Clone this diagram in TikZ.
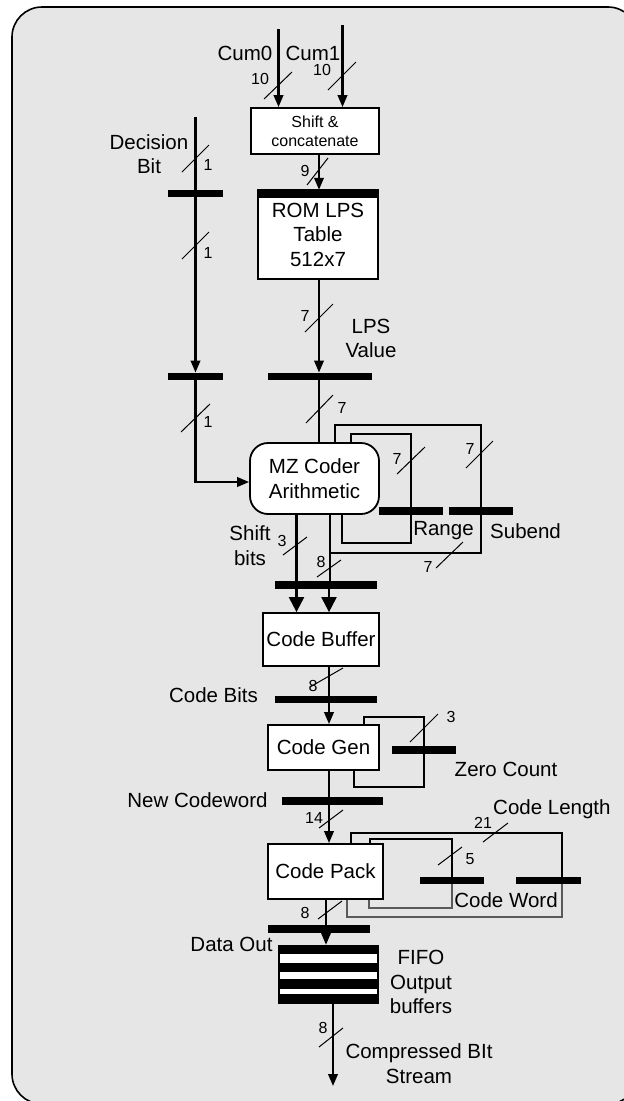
\documentclass[tikz,border=0pt]{standalone}
\usepackage{fontspec}
\setmainfont{Liberation Sans}
\usetikzlibrary{arrows.meta}
\definecolor{panel}{HTML}{E6E6E6}
\definecolor{faint}{HTML}{5A5A5A}

\begin{document}
\begin{tikzpicture}[x=1pt, y=-1pt,
      box/.style={draw, fill=white, line width=1.8pt, inner sep=0pt, align=center,
                  font=\fontsize{20.5}{24.5}\selectfont},
      bar/.style={fill=black, inner sep=0pt, minimum height=7.5pt},
      lbl/.style={align=center, inner sep=0pt, font=\fontsize{20.5}{24.5}\selectfont},
      num/.style={inner sep=0pt, font=\fontsize{16}{18}\selectfont},
      bus/.style={line width=2.2pt},
      arr/.style={bus, -{Triangle[length=12pt, width=9.5pt]}},
      arrbig/.style={bus, -{Triangle[length=15pt, width=15pt]}},
      fb/.style={line width=1.6pt},
      tick/.style={line width=1pt}]
    \useasboundingbox (0,0) rectangle (624,1101);
    \clip (0,0) rectangle (624,1101);
    \draw[line width=1.6pt, fill=panel, rounded corners=30pt] (12,7) rectangle (638,1104);

    \node[box, minimum width=128pt, minimum height=46pt, font=\fontsize{16}{19}\selectfont] (sc) at (315,131) {Shift \&\\concatenate};
    \node[box, minimum width=120pt, minimum height=89pt] (rom) at (318,234.5) {ROM LPS\\Table\\512x7};
    \node[bar, minimum width=120pt, minimum height=8pt] (rombar) at (318,194) {};
    \node[box, rounded corners=18pt, minimum width=129pt, minimum height=71pt] (mz) at (314.5,478.5) {MZ Coder\\Arithmetic};
    \node[box, minimum width=116pt, minimum height=53pt] (buf) at (321,639.5) {Code Buffer};
    \node[box, minimum width=111pt, minimum height=45pt] (gen) at (323.5,747.5) {Code Gen};
    \node[box, minimum width=115pt, minimum height=55pt] (pack) at (325.5,871.5) {Code Pack};
    \node[fill=black, inner sep=0pt, minimum width=101pt, minimum height=59pt] (fifo) at (328.5,974.5) {};
    \foreach \ya/\yb in {954/963, 972/979, 989/994}
      \fill[white] (280,\ya) rectangle (377,\yb);

    \node[bar, minimum width=55pt]  (b1)     at (195.5,193.5) {};
    \node[bar, minimum width=55pt]  (b2)     at (195.5,376.5) {};
    \node[bar, minimum width=104pt] (b3)     at (320,376.5) {};
    \node[bar, minimum width=64pt]  (brange) at (411,511) {};
    \node[bar, minimum width=64pt]  (bsub)   at (481,511) {};
    \node[bar, minimum width=102pt] (b4)     at (326,585) {};
    \node[bar, minimum width=102pt] (b5)     at (326,699.5) {};
    \node[bar, minimum width=64pt]  (bzero)  at (424,750) {};
    \node[bar, minimum width=101pt] (b6)     at (332.5,801) {};
    \node[bar, minimum width=64pt]  (bword)  at (452,880.5) {};
    \node[bar, minimum width=65pt]  (blen)   at (548.5,880.5) {};
    \node[bar, minimum width=102pt] (b7)     at (319,929) {};

    \coordinate (cum0) at (278.5,29);
    \coordinate (cum1) at (342.5,25);
    \coordinate (dec)  at (195.5,117);
    \coordinate (out)  at (333,1086);

    \draw[arr](cum0)--(cum0 |- sc.north);\draw[arr](cum1)--(cum1 |- sc.north);
    \draw[arr](sc.south -| 319,0)--(rombar.north -| 319,0);
    \draw[arr](rom.south -| 319,0)--(b3.north -| 319,0);
    \draw[bus](b3.south -| 319,0)--(mz.north -| 319,0);
    \draw[bus](dec)--(b1.north);\draw[arr](b1.south)--(b2.north);
    \draw[arr](b2.south) |- (mz.west |- 0,482);
    \draw[fb](mz.north -| 351,0) |- (411,434) -- (411,543) -| (mz.south -| 342,0);
    \draw[fb](mz.north -| 335,0) |- (481,425) -- (481,553) -- (330,553);
    \draw[bus](mz.south -| 296.5,0)--(b4.south -| 296.5,0);\draw[bus](mz.south -| 330,0)--(b4.south -| 330,0);
    \draw[arrbig](b4.south -| 296.5,0)--(buf.north -| 296.5,0);\draw[arrbig](b4.south -| 329,0)--(buf.north -| 329,0);
    \draw[bus](buf.south -| 329,0)--(b5.south -| 329,0);\draw[arr](b5.south -| 329,0)--(gen.north -| 329,0);
    \draw[fb](gen.north -| 364,0) |- (424,717) -- (424,787) -| (gen.south -| 354,0);
    \draw[bus](gen.south -| 329,0)--(b6.south -| 329,0);\draw[arr](b6.south -| 329,0)--(pack.north -| 329,0);
    \draw[fb](pack.north -| 351,0) |- (562,833) -- (blen.south -| 562,0);
    \draw[fb, faint, line width=1.2pt](blen.south -| 562,0) |- (347,917) -- (pack.south -| 347,0);
    \draw[fb](pack.north -| 370,0) |- (452,839) -- (bword.south);
    \draw[fb, faint, line width=1.2pt](bword.south) |- (369,908) -- (pack.south -| 369,0);
    \draw[bus](pack.south -| 326,0)--(b7.south -| 326,0);\draw[arr](b7.south -| 326,0)--(fifo.north -| 326,0);
    \draw[arr](fifo.south -| 333,0)--(out);

    \foreach \xa/\ya/\xb/\yb in {264/99/292/72, 328/90/356/62, 307/185/328/158, 182/172/209/145,
        182/259/209/232, 305/332/333/304, 181/432/210/404, 306/423/333/395, 397/474/425/447,
        466/468/493/441, 436/568/463/542, 283/555/307/537, 317/577/341/560, 310/687/343/668,
        410/742/438/714, 319/828/343/810, 438/865/462/847, 483/842/508/823, 318/919/342/901,
        319/1047/343/1028}
      \draw[tick](\xa,\ya)--(\xb,\yb);
    \foreach \x/\y/\t [count=\i] in {260/79/10, 322/70/10, 305/171/9, 208/165/1, 208/253/1,
        305/316/7, 208/422/1, 342/408/7, 397/459/7, 470/449/7, 428/567/7, 282/541/3, 321/562/8,
        313/686/8, 451/717/3, 314/818/14, 470/859/5, 483/823/21, 305/913/8, 323/1028/8}
      \node[num] (w\i) at (\x,\y) {\t};

    \node[lbl] (lcum0) at (245,53) {Cum0};
    \node[lbl] (lcum1) at (313,53) {Cum1};
    \node[lbl] (ldec) at (149,154) {Decision\\Bit};
    \node[lbl] (llps) at (371,338.5) {LPS\\Value};
    \node[lbl] (lshift) at (250,545.5) {Shift\\bits};
    \node[lbl] (lrange) at (443.5,531) {Range};
    \node[lbl, anchor=west] (lsub) at (490,531) {Subend};
    \node[lbl] (lbits) at (213.5,695) {Code Bits};
    \node[lbl] (lzero) at (506,769) {Zero Count};
    \node[lbl] (lnew) at (197.5,800) {New Codeword};
    \node[lbl, anchor=west] (llen) at (493,809) {Code Length};
    \node[lbl] (lword) at (506,900) {Code Word};
    \node[lbl] (ldata) at (231.5,944) {Data Out};
    \node[lbl] (lfifo) at (421,982) {FIFO\\Output\\buffers};
    \node[lbl] (lcomp) at (419,1063.5) {Compressed BIt\\Stream};
  \end{tikzpicture}
\end{document}
